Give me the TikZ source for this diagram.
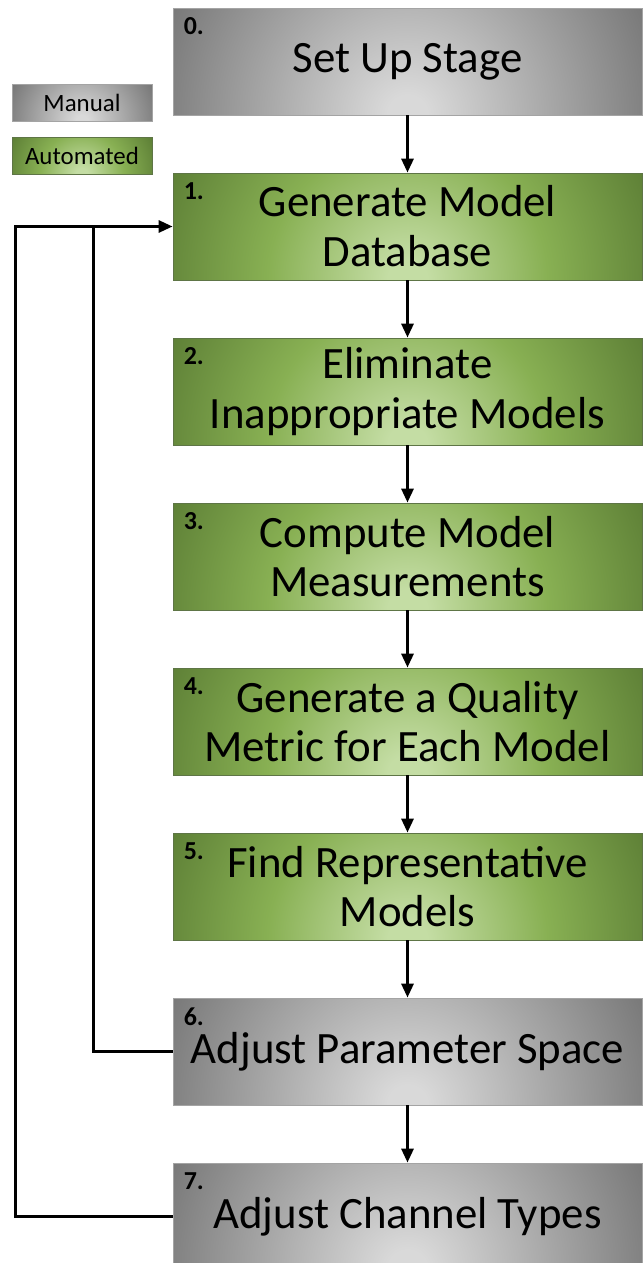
\documentclass[tikz,border=0pt]{standalone}
\usepackage{fontspec}
\setmainfont{Carlito}
\usepackage{xcolor}
\usepackage{tikz}
\usetikzlibrary{positioning, arrows.meta}

\definecolor{greyin}{HTML}{D9D9D9}
\definecolor{greymid}{HTML}{A8A8A8}
\definecolor{greyout}{HTML}{686868}
\definecolor{greenin}{HTML}{C4DDA4}
\definecolor{greenmid}{HTML}{88B053}
\definecolor{greenout}{HTML}{50702D}

\pgfdeclareradialshading{manualglow}{\pgfpointorigin}{color(0bp)=(greyin); color(2bp)=(greyin); color(14bp)=(greymid); color(30bp)=(greyout); color(45bp)=(greyout!88!black); color(100bp)=(greyout!88!black)}
\pgfdeclareradialshading{autoglow}{\pgfpointorigin}{color(0bp)=(greenin); color(2bp)=(greenin); color(14bp)=(greenmid); color(30bp)=(greenout); color(45bp)=(greenout!88!black); color(100bp)=(greenout!88!black)}

\tikzset{
    glow/.style 2 args={path picture={\shade[shading=#1] ([shift={(-#2,-#2)}]path picture bounding box.south) rectangle ([shift={(#2,#2)}]path picture bounding box.south);}},
    manual/.style={draw=greyout!60, line width=0.8bp, glow={manualglow}{#1}},
    manual/.default=250bp,
    automated/.style={draw=greenout!70!gray, line width=0.8bp, glow={autoglow}{#1}},
    automated/.default=250bp,
    stage/.style={rectangle, minimum width=469bp, minimum height=107bp, inner sep=0pt, align=center, font=\fontsize{45}{50}\selectfont},
    legend/.style={rectangle, minimum width=140bp, minimum height=37bp, inner sep=0pt, font=\fontsize{25}{25}\selectfont},
    numtag/.style={anchor=north west, inner sep=0pt, font=\fontsize{26}{26}\selectfont\bfseries},
    flow/.style={-{Triangle[length=14bp,width=12bp]}, line width=3bp},
    wire/.style={line width=3bp}
}

\begin{document}
\begin{tikzpicture}[node distance=165bp, on grid]
        \useasboundingbox (0,0) rectangle (644bp,-1263bp);

        \node[stage, manual] (s0) at (407.5bp,-61.5bp) {Set Up Stage};
        \node[stage, automated] (s1) [below=of s0] {Generate Model\\Database};
        \node[stage, automated] (s2) [below=of s1] {Eliminate\\Inappropriate Models};
        \node[stage, automated] (s3) [below=of s2] {Compute Model\\Measurements};
        \node[stage, automated] (s4) [below=of s3] {Generate a Quality\\Metric for Each Model};
        \node[stage, automated] (s5) [below=of s4] {Find Representative\\Models};
        \node[stage, manual] (s6) [below=of s5] {Adjust Parameter Space};
        \node[stage, manual] (s7) [below=of s6] {Adjust Channel Types};

        % step numbers in the top left corners
        \foreach \i in {0,...,7}
            \node[numtag] (n\i) at ([shift={(11bp,-10bp)}]s\i.north west) {\i.};

        % legend
        \node[legend, manual=75bp] (kman) at (82bp,-102.5bp) {Manual};
        \node[legend, automated=75bp] (kauto) [below=53bp of kman] {Automated};

        \path[flow]
        (s0) edge (s1)
        (s1) edge (s2)
        (s2) edge (s3)
        (s3) edge (s4)
        (s4) edge (s5)
        (s5) edge (s6)
        (s6) edge (s7);

        % loops back to stage 1
        \coordinate (inner) at ([xshift=-79bp]s1.west);
        \coordinate (outer) at ([xshift=-157bp]s1.west);
        \draw[flow] (s7.west) -| (outer) -- (s1.west);
        \draw[wire] (s6.west) -| (inner);
    \end{tikzpicture}
\end{document}
